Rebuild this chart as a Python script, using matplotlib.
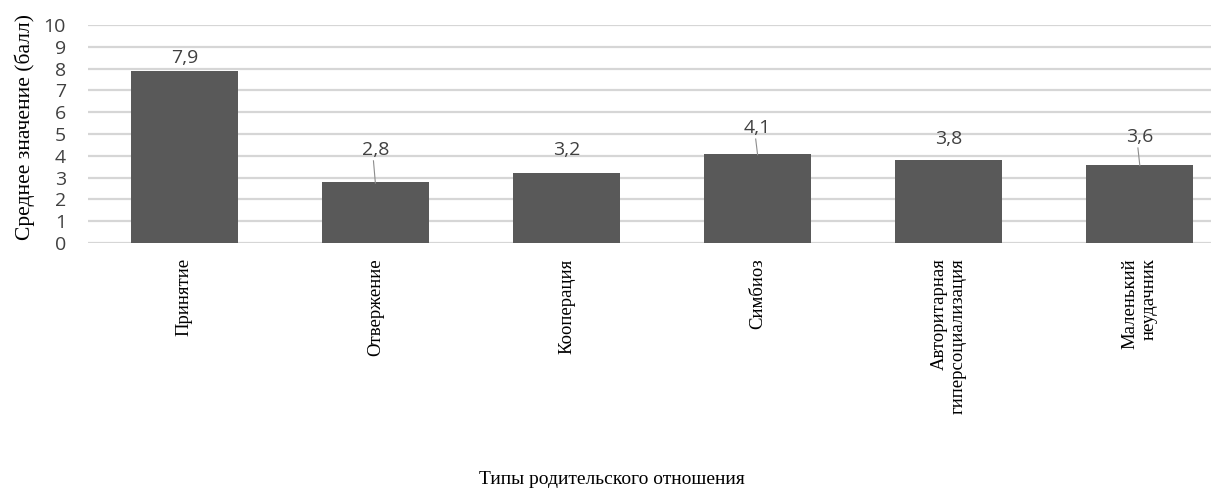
import matplotlib.pyplot as plt
import numpy as np

# data
categories = ['Принятие', 'Отвержение', 'Кооперация', 'Симбиоз',
              'Авторитарная\nгиперсоциализация', 'Маленький\nнеудачник']
values = [7.9, 2.8, 3.2, 4.1, 3.8, 3.6]
value_labels = ['7,9', '2,8', '3,2', '4,1', '3,8', '3,6']
# where the labels sit (data units) and whether a leader line is drawn
label_pos = [8.5, 4.27, 4.27, 5.27, 4.77, 4.86]
leader = [False, True, False, True, False, True]

fig = plt.figure(figsize=(12.24, 4.9), dpi=100)
ax = fig.add_axes([0.072, 0.504, 0.917, 0.445])

x = np.arange(len(categories))
ax.bar(x, values, width=0.56, color='#595959', zorder=3)

for xi, v, lab, ly, ld in zip(x, values, value_labels, label_pos, leader):
    ax.text(xi, ly, lab, ha='center', va='center', fontsize=14,
            color='#404040', family='Open Sans')
    if ld:
        ax.plot([xi - 0.01, xi], [ly - 0.5, v - 0.05], color='#8c8c8c',
                lw=0.8, zorder=4)

ax.set_xlim(-0.503, 5.37)
ax.set_ylim(0, 10)
ax.set_yticks(range(0, 11))
ax.yaxis.grid(True, color='#d6d6d6', lw=1.6, zorder=0)
for s in ax.spines.values():
    s.set_visible(False)
ax.tick_params(axis='both', length=0)
ax.tick_params(axis='y', labelsize=14, labelcolor='#404040', pad=16)
for t in ax.get_yticklabels():
    t.set_family('Open Sans')

ax.set_xticks(x)
ax.set_xticklabels(categories, rotation=90, family='Liberation Serif',
                   fontsize=13.5, va='top', ha='center', multialignment='right')
ax.tick_params(axis='x', pad=11)

fig.text(0.5, 0.005, 'Типы родительского отношения', ha='center',
         va='bottom', family='Liberation Serif', fontsize=14)
fig.text(0.02, 0.74, 'Среднее значение (балл)', rotation=90, ha='center',
         va='center', family='Liberation Serif', fontsize=15.5)

fig.savefig('out.png', dpi=100)
